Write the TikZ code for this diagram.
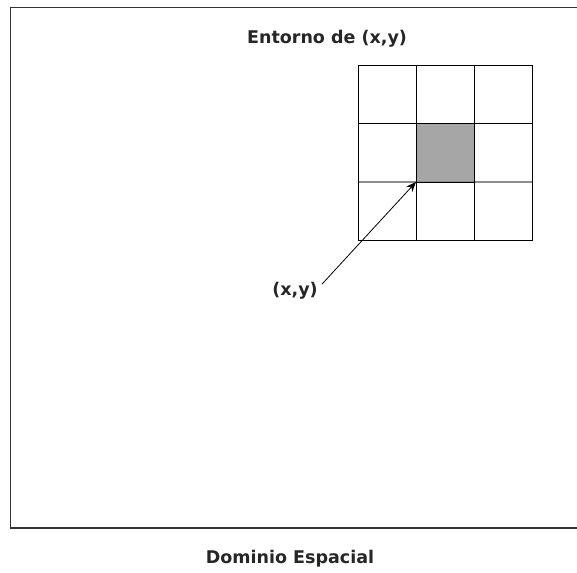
\documentclass[tikz,border=0pt]{standalone}
\usepackage{fontspec}
\setmainfont{DejaVu Sans}
\usetikzlibrary{arrows.meta, positioning}
\definecolor{cellgray}{RGB}{166, 166, 166}
\definecolor{linegray}{RGB}{140, 140, 140}
\tikzset{
  titlelbl/.style={font=\bfseries\fontsize{17.5}{21}\selectfont, inner sep=0pt, text=black!85},
  ptlbl/.style={titlelbl, inner sep=2pt},
  gridline/.style={line width=1pt, black},
  ptarrow/.style={-{Stealth[length=10pt, width=8pt]}, line width=0.8pt, black},
}
\begin{document}
\begin{tikzpicture}[x=1pt, y=-1pt]
  \useasboundingbox (0,0) rectangle (577,572);
  % dominio
  \draw[line width=1.5pt, black!80] (590,7.5) -- (10.5,7.5) -- (10.5,528) -- (590,528);
  \node[titlelbl] (dominio) at (290,559) {Dominio Espacial};
  % entorno 3x3
  \fill[cellgray] (416,124) rectangle (474,182);
  \draw[line width=1.2pt, linegray] (358,182) -- (532,182);
  \draw[gridline] (358,66) rectangle (532,240);
  \foreach \x in {416,474} \draw[gridline] (\x,66) -- (\x,240);
  \draw[gridline] (358,124) -- (532,124);
  \draw[gridline] (416,124) rectangle (474,182);
  \node[titlelbl] (entorno) at (327,39) {Entorno de (x,y)};
  % punto
  \coordinate (xy) at (416,182);
  \node[ptlbl] (punto) at (295,291) {(x,y)};
  \draw[ptarrow] ([xshift=2pt,yshift=-4pt]punto.north east) -- (xy);
\end{tikzpicture}
\end{document}
